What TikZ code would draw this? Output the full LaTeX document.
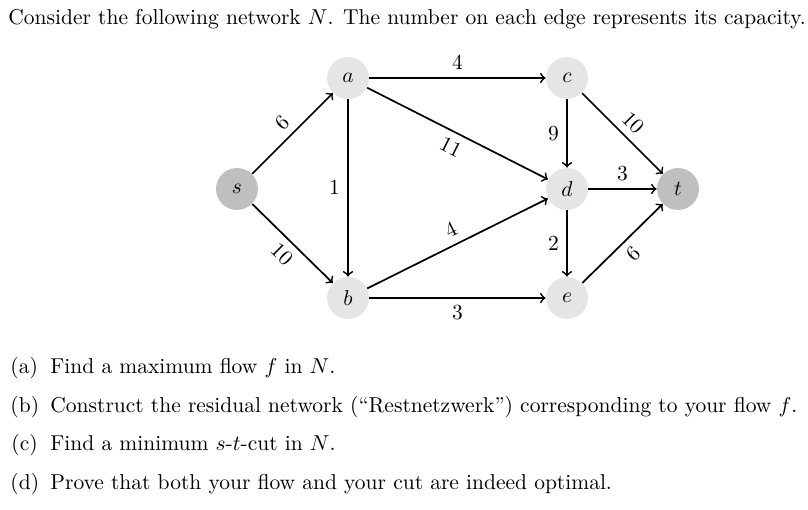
\documentclass[tikz,border=0pt]{standalone}
\usepackage{amssymb}
\usepackage{amsmath}
\usetikzlibrary{arrows}

\begin{document}
\begin{tikzpicture}[x=0.465pt,y=-0.465pt,
  vert/.style={circle,fill=black!10,minimum size=19.5pt,inner sep=0pt},
  term/.style={circle,fill=black!25,minimum size=19.5pt,inner sep=0pt},
  txt/.style={anchor=base west,inner sep=0pt}]
\useasboundingbox (0,0) rectangle (808,509);
\node[txt] (intro) at (8,24) {Consider the following network $N$. The number on each edge represents its capacity.};
\node[vert] (a) at (348,78) {$a$};
\node[vert] (b) at (348,298) {$b$};
\node[vert] (c) at (567,78) {$c$};
\node[vert] (d) at (567,189) {$d$};
\node[vert] (e) at (567,298) {$e$};
\node[term] (s) at (237,189) {$s$};
\node[term] (t) at (678,189) {$t$};
\path[draw,thick,->] (s) -- node[above,sloped] {$6$} (a);
\path[draw,thick,->] (s) -- node[below,sloped] {$10$} (b);
\path[draw,thick,->] (a) -- node[above] {$4$} (c);
\path[draw,thick,->] (a) -- node[left] {$1$} (b);
\path[draw,thick,->] (a) -- node[below,sloped] {$11$} (d);
\path[draw,thick,->] (b) -- node[above,sloped] {$4$} (d);
\path[draw,thick,->] (b) -- node[below] {$3$} (e);
\path[draw,thick,->] (c) -- node[left] {$9$} (d);
\path[draw,thick,->] (c) -- node[above,sloped] {$10$} (t);
\path[draw,thick,->] (d) -- node[above] {$3$} (t);
\path[draw,thick,->] (d) -- node[left] {$2$} (e);
\path[draw,thick,->] (e) -- node[below,sloped] {$6$} (t);
\node[txt] (la) at (10,373) {(a)};
\node[txt] (ta) at (50,373) {Find a maximum flow $f$ in $N$.};
\node[txt] (lb) at (10,412) {(b)};
\node[txt] (tb) at (50,412) {Construct the residual network (``Restnetzwerk'') corresponding to your flow $f$.};
\node[txt] (lc) at (11,450) {(c)};
\node[txt] (tc) at (50,450) {Find a minimum $s$-$t$-cut in $N$.};
\node[txt] (ld) at (10,489) {(d)};
\node[txt] (td) at (50,489) {Prove that both your flow and your cut are indeed optimal.};
\end{tikzpicture}
\end{document}
